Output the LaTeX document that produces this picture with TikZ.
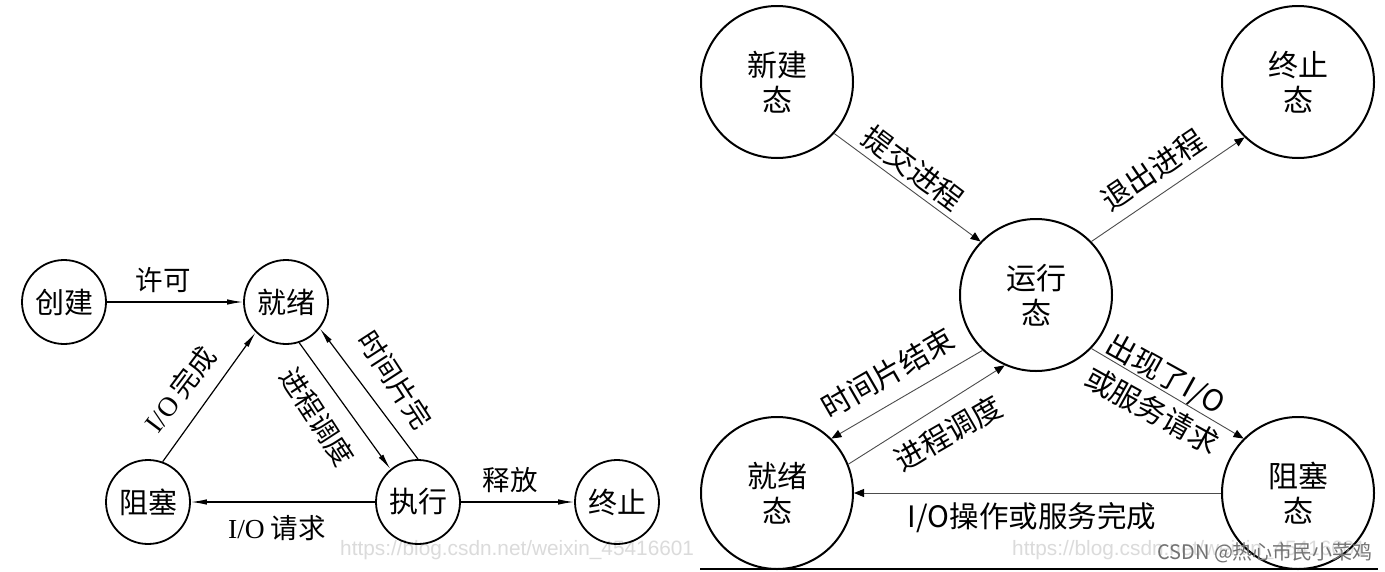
\documentclass[tikz,border=0pt]{standalone}
\usepackage{fontspec}
\newfontfamily\cjk{Noto Sans CJK SC}
\newfontfamily\lserif{Liberation Serif}
\newfontfamily\lsans{Liberation Sans}
\usetikzlibrary{arrows.meta}
\begin{document}
\begin{tikzpicture}[x=1pt,y=-1pt,
  lstate/.style={circle, draw, line width=1.8pt, minimum size=84pt, inner sep=0pt, font=\cjk\fontsize{29pt}{31pt}\selectfont},
  llabel/.style={inner sep=0pt, font=\cjk\fontsize{27.5pt}{30pt}\selectfont},
  ledge/.style={line width=1.2pt, -{Latex[length=16pt,width=5.5pt]}},
  rstate/.style={circle, draw, line width=2pt, minimum size=152pt, inner sep=0pt, align=center, font=\cjk\fontsize{30pt}{35pt}\selectfont},
  rlabel/.style={inner sep=0pt, font=\cjk\fontsize{29.5pt}{32pt}\selectfont},
  redge/.style={line width=0.9pt, draw=black!70, -{Triangle[length=10pt,width=8pt,color=black]}},
  wm/.style={inner sep=0pt, text=black!14, font=\lsans\fontsize{20.8pt}{24pt}\selectfont},
  csdnmark/.style={inner sep=0pt, text=black!55, font=\cjk\fontsize{20pt}{24pt}\selectfont}
]
\useasboundingbox (0,0) rectangle (1385,571);
\fill[white] (0,0) rectangle (1385,571);

% watermarks (behind)
\node[wm, anchor=base west] (wm1) at (340,555) {https://blog.csdn.net/weixin\_45416601};
\node[wm, anchor=base west] (wm2) at (1012,555) {https://blog.csdn.net/weixin\_45416601};

% ---------- left diagram ----------
\node[lstate] (create) at (64,302) {创建};
\node[lstate] (ready) at (286,302) {就绪};
\node[lstate] (block) at (148,502) {阻塞};
\node[lstate] (exec) at (418,502) {执行};
\node[lstate] (term) at (617,502) {终止};

\draw[ledge] (create) -- (ready);
\draw[ledge] (block.70) -- (ready.225);
\draw[ledge] (ready.-72) -- (exec.130);
\draw[ledge] (exec.90) -- (ready.-38);
\draw[ledge] (exec) -- (block);
\draw[ledge] (exec) -- (term);

\node[llabel] (l1) at (163,280) {许可};
\node[llabel, rotate=53] (l2) at (180,389) {{\lserif I/O} 完成};
\node[llabel, rotate=-57] (l3) at (317,417) {进程调度};
\node[llabel, rotate=-57] (l4) at (395,380) {时间片完};
\node[llabel] (l5) at (277,528) {{\lserif I/O} 请求};
\node[llabel] (l6) at (510,480) {释放};

% ---------- right diagram ----------
\node[rstate] (new) at (777,82) {新建\\态};
\node[rstate] (exit) at (1298,82) {终止\\态};
\node[rstate] (run) at (1036,295) {运行\\态};
\node[rstate] (rdy) at (777,493) {就绪\\态};
\node[rstate] (blk) at (1298,493) {阻塞\\态};

\draw[redge] (new.-42) -- (run.136);
\draw[redge] (run.44) -- (exit.226);
\draw[redge] (run.226) -- (rdy.45);
\draw[redge] (rdy.22) -- (run.246);
\draw[redge] (run.-44) -- (blk.135);
\draw[redge] (blk) -- (rdy);

\node[rlabel, rotate=-37] (r1) at (913,168) {提交进程};
\node[rlabel, rotate=34] (r2) at (1153,170) {退出进程};
\node[rlabel, rotate=30] (r3) at (888,373) {时间片结束};
\node[rlabel, rotate=30] (r4) at (948,433) {进程调度};
\node[rlabel, rotate=-29] (r5) at (1165,375) {出现了I/O};
\node[rlabel, rotate=-29] (r6) at (1152,410) {或服务请求};
\node[rlabel] (r7) at (1032,518) {I/O操作或服务完成};

\draw[line width=2pt] (700,569) -- (1378,569);

\node[csdnmark, anchor=base west] (wm3) at (1157,559) {CSDN @热心市民小菜鸡};
\end{tikzpicture}
\end{document}
